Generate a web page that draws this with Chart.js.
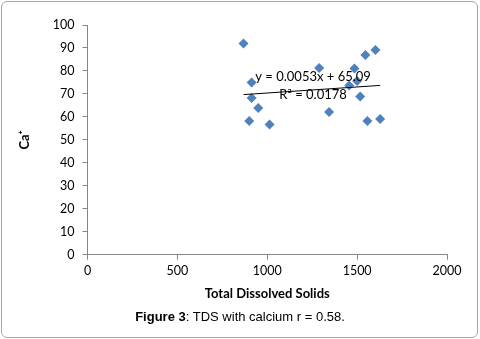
<!DOCTYPE html>
<html lang="en">
<head>
    <meta charset="UTF-8">
    <title>TDS with calcium</title>
    <script src="https://cdn.jsdelivr.net/npm/chart.js"></script>
    <style>
        body { margin: 0; background: #fff; }
        #wrap { position: relative; width: 480px; height: 339px; }
        #frame {
            position: absolute; left: 1px; top: 1px; width: 475px; height: 335px;
            border: 1px solid #a6a6a6; border-radius: 6px;
        }
        #caption {
            position: absolute; left: 0; width: 480px; top: 309px;
            text-align: center; font: 13px "Liberation Sans", Arial, sans-serif; color: #000;
        }
        canvas { position: absolute; left: 0; top: 0; }
    </style>
</head>
<body>
<div id="wrap">
    <div id="frame"></div>
    <canvas id="tdsChart" width="480" height="339"></canvas>
    <div id="caption"><b>Figure 3</b>: TDS with calcium r = 0.58.</div>
</div>

<script>
    // TDS (x) vs calcium (y)
    const tds = [868, 913, 913, 950, 900, 1013, 1289, 1344, 1456, 1485, 1500, 1517, 1546, 1602, 1557, 1628];
    const calcium = [92.0, 75.0, 68.2, 63.9, 58.2, 56.7, 81.3, 62.1, 73.7, 81.1, 75.6, 68.9, 86.9, 89.1, 58.2, 59.1];

    // trendline end points (as drawn)
    const trendX = [868, 1628];
    const trendY = [69.7, 73.7];
    const trendLabels = ['y = 0.0053x + 65.09', 'R\u00b2 = 0.0178'];

    const axisGrey = '#868686';
    const tickFont = { family: 'Lato', size: 12.5 };

    // equation text next to the trendline
    const trendText = {
        id: 'trendText',
        afterDatasetsDraw(chart) {
            const { ctx, scales } = chart;
            ctx.save();
            ctx.font = '13px Lato';
            ctx.fillStyle = '#000';
            ctx.textAlign = 'center';
            ctx.textBaseline = 'middle';
            ctx.fillText(trendLabels[0], scales.x.getPixelForValue(1255), scales.y.getPixelForValue(77.3));
            ctx.fillText(trendLabels[1], scales.x.getPixelForValue(1255), scales.y.getPixelForValue(69.8));
            ctx.restore();
        }
    };

    const ctx = document.getElementById('tdsChart').getContext('2d');
    new Chart(ctx, {
        type: 'scatter',
        data: {
            datasets: [{
                label: 'Trend',
                data: trendX.map((x, i) => ({ x: x, y: trendY[i] })),
                showLine: true,
                borderColor: '#000',
                borderWidth: 1,
                pointRadius: 0
            }, {
                label: 'Ca',
                data: tds.map((x, i) => ({ x: x, y: calcium[i] })),
                pointStyle: 'rectRot',
                pointRadius: 5,
                backgroundColor: '#4f81bd',
                borderColor: '#4f81bd',
                borderWidth: 0
            }]
        },
        options: {
            responsive: false,
            animation: false,
            layout: { padding: { left: 0, right: 33, top: 25, bottom: 34 } },
            plugins: { legend: { display: false }, tooltip: { enabled: false } },
            scales: {
                x: {
                    type: 'linear', min: 0, max: 2000,
                    afterFit(s) { s.height = 50.3; },
                    ticks: { stepSize: 500, color: '#000', font: tickFont, padding: 4, maxRotation: 0,
                             callback: v => String(v) },
                    grid: { drawOnChartArea: false, tickLength: 5, color: axisGrey },
                    border: { color: axisGrey },
                    title: {
                        display: true, text: 'Total Dissolved Solids', color: '#000',
                        font: { family: 'Lato', size: 13, weight: 'bold' },
                        padding: { top: 0, bottom: 3.5 }
                    }
                },
                y: {
                    min: 0, max: 100,
                    afterFit(s) { s.width = 87.5; },
                    ticks: { stepSize: 10, color: '#000', font: tickFont, padding: 8 },
                    grid: { drawOnChartArea: false, tickLength: 5, color: axisGrey },
                    border: { color: axisGrey },
                    title: {
                        display: true, text: 'Ca\u207a', color: '#000',
                        font: { family: 'Lato', size: 13, weight: 'bold' },
                        padding: { top: 17, bottom: 0 }
                    }
                }
            }
        },
        plugins: [trendText]
    });
</script>
</body>
</html>
